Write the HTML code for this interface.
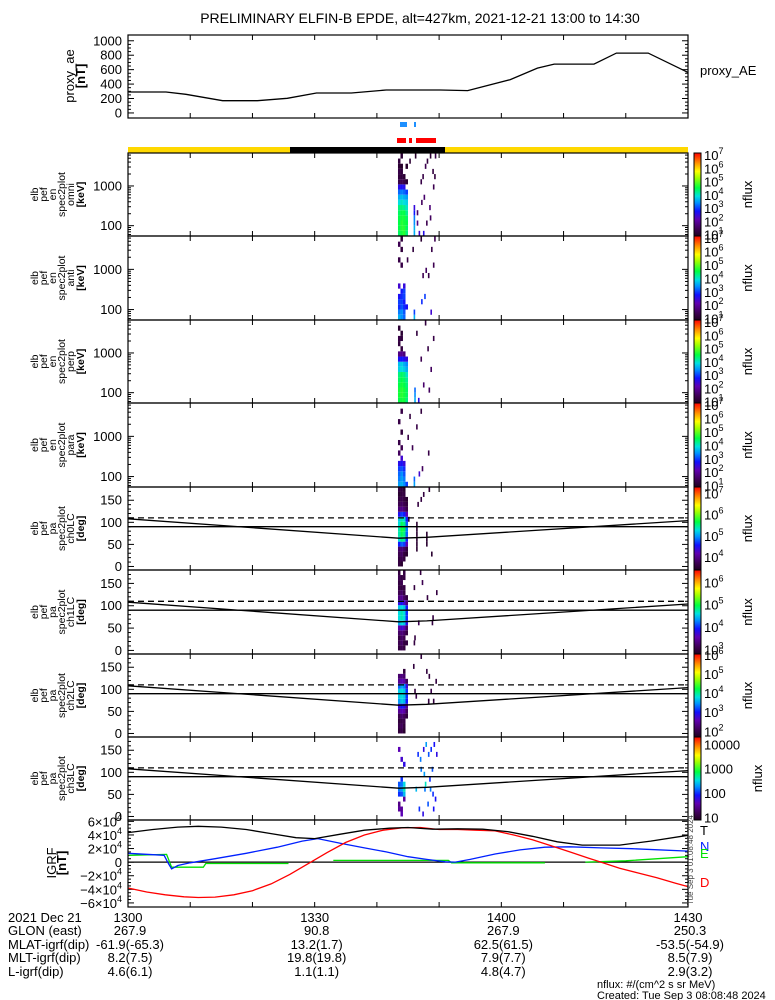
<!DOCTYPE html>
<html><head><meta charset="utf-8"><title>ELFIN-B EPDE</title>
<style>
html,body{margin:0;padding:0;background:#fff;}
svg{display:block;font-family:"Liberation Sans",sans-serif;}
</style></head>
<body>
<svg id="chart" xmlns="http://www.w3.org/2000/svg" width="775" height="1000" viewBox="0 0 775 1000">
<defs>
<linearGradient id="cmap" x1="0" y1="1" x2="0" y2="0">
<stop offset="0" stop-color="#200020"/><stop offset="0.08" stop-color="#3c0050"/><stop offset="0.2" stop-color="#6000b0"/><stop offset="0.3" stop-color="#1010ff"/><stop offset="0.4" stop-color="#0090ff"/><stop offset="0.48" stop-color="#00e0e0"/><stop offset="0.58" stop-color="#00ff40"/><stop offset="0.7" stop-color="#a0ff00"/><stop offset="0.78" stop-color="#ffff00"/><stop offset="0.88" stop-color="#ff9000"/><stop offset="1" stop-color="#ff0000"/>
</linearGradient>
</defs>
<rect width="775" height="1000" fill="#fff"/>
<text x="420" y="23" font-size="14" text-anchor="middle">PRELIMINARY ELFIN-B EPDE, alt=427km, 2021-12-21 13:00 to 14:30</text>
<g id="g-ae"></g>
<g id="g-bars"></g>
<g id="g-spec"></g>
<g id="g-igrf"></g>
<g id="g-foot" font-size="13"></g>
<text x="700" y="75" font-size="13">proxy_AE</text>
<text x="597" y="988" font-size="11">nflux: #/(cm^2 s sr MeV)</text>
<text x="597" y="999" font-size="11">Created: Tue Sep  3 08:08:48 2024</text>
<text transform="translate(693,905) rotate(-90)" font-size="8" fill="#444">Tue Sep 3 01:08:48 2024</text>
</svg>
<script>
// ---------- DATA ----------
const aeTimes=[0.1,6.1,9.3,15.2,20.8,25.6,30.3,35.9,41.5,50.2,54.6,61.4,65.8,68.5,74.9,78.5,83.6,90];
const aeValues=[290,290,258,170,170,203,276,276,318,318,309,461,622,677,677,829,829,562];
const aeTicks=[0,200,400,600,800,1000];

const igrfTTimes=[0,4,8,11.3,15,19,23,27,30,34,38,42,45,49,53,57,61,65,69,73,79,84,90];
const igrfT=[43.5,48,51.5,52.8,51.5,48,42,36,34.6,41,47,50,51,48.5,49,48.5,45,38,30,25,25,31,39.5];
const igrfDTimes=[0,3,6,9,11.3,14,17,20,23,26,29.4,32,35,38,41,44,47,50,53,56,59,62,65,68,71,74,76,79,82,85,88,90];
const igrfD=[-38,-44,-48,-51,-52,-51.5,-48,-42,-32,-18,0,14,29,40,47,50.5,51,48,48,47,46,40,33,24,15,6,0,-9,-16,-23,-31,-36];
const igrfNTimes=[0,5.8,6.5,7,8,10,14,19,24,28,30.5,34,38,41.5,45,48,51,52.6,55,59,63,67,71,76,81,90];
const igrfN=[13,10,-2,-10,-5,-1,5,13,22,31,34.6,28,21,15,8,4,0.5,0,4,12,18,22,22.5,21,19.8,16.3];
const igrfETimes=[0.2,6.2,7.0,12.1,12.5,25.8,26,33,51.5,52,67,70,73.5,80,90];
const igrfE=[10,11.4,-7.4,-7.4,-2,-2,null,2.5,2.5,-1,-1,null,0,2,8];
const igrfTicks=[-6,-4,-2,0,2,4,6];

const timeLabels=["1300","1330","1400","1430"];
const timeLabelMins=[0,30,60,90];
const glonVals=["267.9","90.8","267.9","250.3"];
const mlatVals=["-61.9(-65.3)","13.2(1.7)","62.5(61.5)","-53.5(-54.9)"];
const mltVals=["8.2(7.5)","19.8(19.8)","7.9(7.7)","8.5(7.9)"];
const lVals=["4.6(6.1)","1.1(1.1)","4.8(4.7)","2.9(3.2)"];

const lcTimes=[0,43.5,48,90];
const lcValues=[108,64,66,104];
const antiLcValue=110;
const perpValue=90;

const colTimes=[43.39,43.79,44.20,44.60];
const p1Cols=[[4.4,4.5,4.5,4.5,4.4,4.3,3.9,3.6,3.2,2.6,1.3,1.2,1.3,1.1,1.2,null],[4.6,4.7,4.7,4.6,4.5,4.3,4.0,3.7,3.3,2.7,1.4,1.2,1.2,1.0,null,1.1],[4.7,4.7,4.6,4.6,4.5,4.2,3.9,3.6,3.2,2.6,1.3,1.1,null,null,null,null],[4.3,4.4,4.5,4.4,4.2,4.0,3.8,3.5,3.0,null,1.1,null,null,1.0,null,null]];
const p1Sparse=[[45.9,0,3.6],[45.9,1,3.6],[45.9,2,3.4],[45.9,3,3.3],[45.9,4,2.8],[45.9,5,2.5],[46.4,2,1.8],[46.4,4,1.6],[47.1,6,1.5],[47.5,7,1.6],[47.9,2,1.4],[48.4,5,1.7],[48.5,3,1.5],[49.0,9,1.4],[47.3,11,1.3],[47.7,13,1.4],[48.0,14,1.2],[48.9,12,1.2],[49.3,15,1.3],[48.5,15,1.1],[46.1,15,1.0],[45.2,14,1.1],[49.2,11,1.2],[47.0,10,1.3],[46.7,0,2.4],[47.4,0,2.6]];
const p2Cols=[[3.6,3.3,2.9,3.0,2.7,null,2.4,null,null,null,null,1.3,null,null,1.4,null],[3.4,3.4,3.1,3.0,2.9,2.8,null,null,null,null,1.3,null,null,1.2,null,1.2],[3.2,3.1,2.9,2.8,3.0,3.0,2.5,null,null,null,null,null,null,null,null,null],[null,null,2.7,null,null,null,null,null,null,null,null,null,null,null,null,null]];
const p2Sparse=[[45.9,0,3.6],[45.9,1,3.0],[47.1,3,2.9],[47.6,4,3.0],[48.6,1,2.4],[47.3,8,1.4],[47.8,9,1.5],[48.2,8,1.3],[49.0,10,1.4],[48.7,13,1.3],[45.7,13,1.2],[44.8,11,1.3],[49.2,15,1.4],[47.0,15,1.1]];
const p3Cols=[[4.5,4.6,4.6,4.5,4.4,4.3,3.8,3.7,2.7,1.8,null,1.2,1.3,null,1.1,null],[4.6,4.7,4.7,4.6,4.5,4.4,3.9,3.8,2.8,1.9,1.2,null,1.2,1.1,null,null],[4.6,4.6,4.6,4.5,4.4,4.3,3.8,3.6,2.7,1.7,null,null,null,null,null,null],[4.3,4.4,4.4,4.3,4.2,4.0,3.6,3.4,2.5,null,null,null,null,null,null,null]];
const p3Sparse=[[46.0,0,3.6],[46.0,1,3.4],[46.0,2,3.2],[46.6,0,2.6],[47.4,3,1.6],[48.3,2,1.5],[47.0,8,1.4],[48.1,10,1.3],[46.3,13,1.2],[47.7,15,1.2],[49.0,12,1.3],[48.6,6,1.5]];
const p4Cols=[[3.5,3.3,3.2,3.0,2.6,null,1.5,null,1.3,null,null,null,1.3,null,null,null],[3.6,3.5,3.4,3.1,2.7,2.4,null,1.4,null,null,1.2,null,null,null,1.3,null],[3.4,3.3,3.1,2.9,2.5,null,null,null,null,null,null,null,null,null,null,null],[3.0,null,null,null,null,null,null,null,null,null,null,null,null,null,null,null]];
const p4Sparse=[[45.9,0,3.5],[45.9,1,3.2],[46.7,2,2.4],[47.2,3,1.5],[45.6,7,1.4],[46.3,11,1.3],[45.2,13,1.2],[47.0,14,1.2],[44.9,9,1.3],[48.2,6,1.3]];
const p5Cols=[[3.6,3.6,3.7,3.8,4.6,5.3,5.4,5.4,5.3,5.2,4.5,3.9,3.7,3.6,3.5,3.6],[3.5,3.7,3.8,3.9,4.8,5.5,5.6,5.7,5.6,5.4,4.7,4.0,3.8,3.7,3.6,3.6],[null,3.6,3.6,3.8,4.7,5.4,5.5,5.6,5.5,5.3,4.6,3.9,3.7,3.6,3.6,3.5],[null,null,3.5,3.6,4.2,4.6,4.8,4.9,4.8,4.6,4.2,3.7,3.6,3.5,null,null]];
const p5Sparse=[[46.3,3,3.5],[46.3,4,3.5],[46.3,5,3.5],[46.3,6,3.5],[46.3,7,3.5],[46.3,8,3.5],[47.9,4,3.5],[47.9,5,3.5],[47.9,6,3.5],[47.0,13,3.6],[47.4,14,3.6],[48.3,15,3.5],[48.7,2,3.5],[46.5,12,3.6],[45.0,9,3.6]];
const p6Cols=[[3.0,3.1,3.0,3.2,3.5,4.4,4.6,4.6,4.5,3.8,3.3,3.1,3.0,3.0,3.1,3.0],[3.1,3.2,3.2,3.3,3.7,4.6,4.7,4.7,4.6,3.9,3.4,3.2,3.0,3.1,3.0,null],[3.0,3.0,3.1,3.2,3.6,4.5,4.6,4.6,4.5,3.7,3.2,3.0,3.0,null,3.0,3.0],[null,3.0,null,3.0,3.2,3.8,4.0,4.0,3.9,3.3,3.0,null,null,null,null,null]];
const p6Sparse=[[46.6,5,3.1],[48.9,6,3.0],[48.8,5,3.0],[47.2,13,3.1],[46.9,15,3.0],[48.0,10,3.0],[49.5,11,3.0],[45.9,12,3.0],[46.0,2,3.0],[45.9,1,3.0]];
const p7Cols=[[1.9,2.0,1.9,2.0,2.4,2.8,3.5,3.7,3.7,3.3,2.4,2.2,null,null,null,null],[2.0,2.1,2.0,2.2,2.6,3.0,3.7,3.8,3.8,3.5,2.6,2.3,null,null,null,null],[1.8,1.9,2.0,2.1,2.5,2.9,3.6,3.7,3.7,3.4,2.5,2.2,1.9,null,null,null],[null,null,null,1.9,2.1,2.4,3.0,3.1,3.1,2.8,2.1,null,null,null,null,null]];
const p7Sparse=[[45.8,13,1.9],[47.9,12,1.9],[48.3,11,1.9],[48.6,8,2.0],[49.4,10,1.9],[49.0,6,1.9],[48.2,6,1.9],[47.0,15,1.9],[46.0,8,1.9],[46.2,7,2.0]];
const p8Cols=[[null,1.5,1.4,null,2.0,2.2,2.1,null,null,null,null,null,null,1.6,null,null],[1.6,1.5,null,null,2.1,2.3,2.2,2.0,null,null,null,1.7,null,null,null,null],[null,null,null,1.5,2.4,2.6,2.5,null,null,null,1.8,null,null,null,null,null],[null,null,null,null,null,null,null,null,null,null,null,null,null,null,null,null]];
const p8Sparse=[[46.5,12,2.0],[46.9,11,2.2],[47.4,13,1.8],[47.8,14,2.3],[48.2,12,2.1],[48.6,13,2.0],[49.1,14,1.9],[49.5,12,1.8],[47.0,9,2.2],[47.5,8,2.3],[48.4,7,2.0],[48.8,9,2.1],[46.2,5,2.4],[47.6,5,2.2],[48.9,4,2.0],[49.3,3,1.9],[46.7,1,2.0],[47.3,0,1.8],[48.1,2,2.1],[49.0,1,1.9],[47.7,6,2.6],[48.5,5,2.2]];

const cbRanges=[[0.9,7.15],[0.9,7.15],[0.9,7.15],[0.9,7.15],[3.4,7.3],[2.8,6.55],[1.7,6.05],[0.9,4.3]];
const cbTickExps=[[1,2,3,4,5,6,7],[1,2,3,4,5,6,7],[1,2,3,4,5,6,7],[1,2,3,4,5,6,7],[4,5,6,7],[3,4,5,6],[2,3,4,5,6],[1,2,3,4]];
const energyTicks=[100,1000];
const paTicks=[0,50,100,150];
const panelLabels=[["elb","pef","en","spec2plot","omni","[keV]"],["elb","pef","en","spec2plot","anti","[keV]"],["elb","pef","en","spec2plot","perp","[keV]"],["elb","pef","en","spec2plot","para","[keV]"],["elb","pef","pa","spec2plot","ch0LC","[deg]"],["elb","pef","pa","spec2plot","ch1LC","[deg]"],["elb","pef","pa","spec2plot","ch2LC","[deg]"],["elb","pef","pa","spec2plot","ch3LC","[deg]"]];

// ---------- HELPERS ----------
const NS='http://www.w3.org/2000/svg';
function el(tag,attrs,parent){const e=document.createElementNS(NS,tag);for(const k in attrs)e.setAttribute(k,attrs[k]);parent.appendChild(e);return e;}
const X0=128,X1=688,T0=0,T1=90;
function xs(t){return X0+(t-T0)/(T1-T0)*(X1-X0);}
const stops=[[0,[32,0,32]],[0.08,[60,0,80]],[0.2,[96,0,176]],[0.3,[16,16,255]],[0.4,[0,144,255]],[0.48,[0,224,224]],[0.58,[0,255,64]],[0.7,[160,255,0]],[0.78,[255,255,0]],[0.88,[255,144,0]],[1,[255,0,0]]];
function cmap(f){f=Math.max(0,Math.min(1,f));for(let i=1;i<stops.length;i++){if(f<=stops[i][0]){const a=stops[i-1],b=stops[i];const u=(f-a[0])/(b[0]-a[0]);const c=a[1].map((v,j)=>Math.round(v+(b[1][j]-v)*u));return 'rgb('+c.join(',')+')';}}return 'rgb(255,0,0)';}
function timeTicks(g,top,bot){
  for(let m=0;m<=90;m+=10){const x=xs(m);
    const a=el('line',{x1:x,y1:top,x2:x,y2:top+5,stroke:'#000'},g);
    
    
    const b=el('line',{x1:x,y1:bot,x2:x,y2:bot-5,stroke:'#000'},g);
    
    }
}
function yTick(g,y,len){
  const a=el('line',{x1:X0,y1:y,x2:X0+len,y2:y,stroke:'#000'},g);
  
  
  const b=el('line',{x1:X1,y1:y,x2:X1-len,y2:y,stroke:'#000'},g);
  
  
}
function frame(g,top,bot,name){
  const r=el('rect',{x:X0,y:top,width:X1-X0,height:bot-top,fill:'none',stroke:'#000','stroke-width':1.2},g);
  
  
}
function yLabel(g,x,y,txt,name){
  const t=el('text',{x:x,y:y+4.5,'font-size':13,'text-anchor':'end'},g);
  t.textContent=txt;
  
  
}
function sideLabels(g,lines,baselines,cy,fs){
  lines.forEach((s,i)=>{const t=el('text',{transform:'translate('+baselines[i]+','+cy+') rotate(-90)','font-size':fs,'text-anchor':'middle','font-weight':s.startsWith('[')?'bold':'normal'},g);
    t.textContent=s;
    
    });
}
function polyline(g,times,vals,ys,color,name,dash){
  let segs=[],cur=[];
  times.forEach((t,i)=>{if(vals[i]===null){if(cur.length)segs.push(cur);cur=[];}else cur.push(xs(t).toFixed(1)+','+ys(vals[i]).toFixed(1));});
  if(cur.length)segs.push(cur);
  segs.forEach(s=>{const p=el('polyline',{points:s.join(' '),fill:'none',stroke:color,'stroke-width':1.3},g);
    if(dash)p.setAttribute('stroke-dasharray',dash);
    
    });
}

// ---------- AE PANEL ----------
(function(){
  const g=document.getElementById('g-ae');const top=35,bot=118,lo=-70,hi=1080;
  const ys=v=>bot-(v-lo)/(hi-lo)*(bot-top);
  for(let v=0;v<=1000;v+=50)yTick(g,ys(v),v%200===0?6:3);
  aeTicks.forEach(v=>yLabel(g,122,ys(v),String(v),'ae-tick-label'));
  timeTicks(g,top,bot);
  polyline(g,aeTimes,aeValues,ys,'#000','proxy-ae-line');
  frame(g,top,bot,'ae-frame');
  sideLabels(g,['proxy_ae','[nT]'],[74,85],76,13);
})();

// ---------- STATUS BARS ----------
(function(){
  const g=document.getElementById('g-bars');
  const mk=(x1,x2,y,h,c,n)=>{const r=el('rect',{x:x1,y:y,width:x2-x1,height:h,fill:c},g);};
  mk(128,688,147,6,'#ffd800','sunlight-bar');
  mk(290,445,147,6,'#000','eclipse-bar');
  mk(400,407,122,5,'#1e90ff','blue-marker');
  mk(414,416,122,5,'#1e90ff','blue-marker');
  mk(397,406,138,5,'#ff0000','red-marker');
  mk(409,412,138,5,'#ff0000','red-marker');
  mk(416,436,138,5,'#ff0000','red-marker');
})();

// ---------- SPECTROGRAMS ----------
const colsAll=[p1Cols,p2Cols,p3Cols,p4Cols,p5Cols,p6Cols,p7Cols,p8Cols];
const sparseAll=[p1Sparse,p2Sparse,p3Sparse,p4Sparse,p5Sparse,p6Sparse,p7Sparse,p8Sparse];
(function(){
  const g=document.getElementById('g-spec');
  const tops=[153,236,320,403,487,570,654,737];
  const bots=[236,320,403,487,570,654,737,820];
  for(let p=0;p<8;p++){
    const top=tops[p],bot=bots[p],isE=p<4;
    const pg=el('g',{},g);
    
    
    const ys=isE?(v=>bot-(Math.log10(v)-1.74)/(3.83-1.74)*(bot-top)):(v=>bot-(v+8)/188*(bot-top));
    const binY=isE?(i=>[ys(Math.pow(10,1.74+(i+1)*0.13)),ys(Math.pow(10,1.74+i*0.13))]):(i=>[ys((i+1)*11.25),ys(i*11.25)]);
    const [clo,chi]=cbRanges[p];
    const fr=v=>(v-clo)/(chi-clo);
    colsAll[p].forEach((col,ci)=>{col.forEach((v,bi)=>{if(v===null)return;const [y1,y2]=binY(bi);
      const r=el('rect',{x:xs(colTimes[ci]).toFixed(2),y:y1.toFixed(2),width:(xs(colTimes[ci]+0.4)-xs(colTimes[ci])).toFixed(2),height:(y2-y1).toFixed(2),fill:cmap(fr(v))},pg);
      
      });});
    sparseAll[p].forEach(([t,bi,v])=>{const [y1,y2]=binY(bi);
      const r=el('rect',{x:xs(t).toFixed(2),y:y1.toFixed(2),width:1.6,height:(y2-y1).toFixed(2),fill:cmap(fr(v))},pg);
      
      });
    if(isE){
      for(let d=1;d<=3;d++)for(let m=1;m<=9;m++){const v=m*Math.pow(10,d);const lv=Math.log10(v);if(lv<1.74||lv>3.83)continue;yTick(pg,ys(v),m===1?6:3);}
      energyTicks.forEach(v=>yLabel(pg,122,ys(v),String(v),'energy-tick-label'));
    }else{
      for(let v=0;v<=180;v+=10)yTick(pg,ys(v),v%50===0?6:3);
      paTicks.forEach(v=>yLabel(pg,122,ys(v),String(v),'pitch-angle-tick-label'));
      polyline(pg,[0,90],[antiLcValue,antiLcValue],ys,'#000','anti-loss-cone-line','6,4');
      polyline(pg,[0,90],[perpValue,perpValue],ys,'#000','perpendicular-line');
      polyline(pg,lcTimes,lcValues,ys,'#000','loss-cone-line');
    }
    timeTicks(pg,top,bot);
    frame(pg,top,bot,'spectrogram-frame');
    sideLabels(pg,panelLabels[p],[38,47,56,65,74,84],(top+bot)/2,10.5);
    // colorbar
    const cb=el('rect',{x:694,y:top,width:7,height:bot-top,fill:'url(#cmap)',stroke:'#000','stroke-width':1},pg);
    
    
    cbTickExps[p].forEach(k=>{const y=bot-(k-clo)/(chi-clo)*(bot-top);
      const t=el('text',{x:704,y:(y+5).toFixed(1),'font-size':13},pg);
      
      
      if(p===7){t.textContent=String(Math.pow(10,k));}
      else{t.textContent='10';const s=el('tspan',{dy:-6,'font-size':9},t);s.textContent=String(k);}});
    const nf=el('text',{transform:'translate('+(p===7?762:752)+','+((top+bot)/2)+') rotate(-90)','font-size':13,'text-anchor':'middle'},pg);
    nf.textContent='nflux';
    
    
  }
})();

// ---------- IGRF PANEL ----------
(function(){
  const g=document.getElementById('g-igrf');const top=820,bot=907,lo=-66,hi=62;
  const ys=v=>bot-(v-lo)/(hi-lo)*(bot-top);
  for(let v=-60;v<=60;v+=5)yTick(g,ys(v),v%20===0?6:3);
  igrfTicks.forEach(v=>{const y=ys(v*10);
    const t=el('text',{x:122,y:(y+5).toFixed(1),'font-size':13,'text-anchor':'end'},g);
    
    
    if(v===0){t.textContent='0';}else{t.textContent=(v<0?'\u2212':'')+Math.abs(v)+'\u00d710';const s=el('tspan',{dy:-6,'font-size':9},t);s.textContent='4';}});
  timeTicks(g,top,bot);
  polyline(g,[0,90],[0,0],ys,'#000','zero-line');
  polyline(g,igrfETimes,igrfE,ys,'#00e000','igrf-e-line');
  polyline(g,igrfNTimes,igrfN,ys,'#0020ff','igrf-n-line');
  polyline(g,igrfDTimes,igrfD,ys,'#ff0000','igrf-d-line');
  polyline(g,igrfTTimes,igrfT,ys,'#000','igrf-t-line');
  frame(g,top,bot,'igrf-frame');
  sideLabels(g,['IGRF','[nT]'],[56,66],863,13);
  [['T','#000',835],['N','#0020ff',851],['E','#00e000',858],['D','#ff0000',887]].forEach(([s,c,y])=>{
    const t=el('text',{x:700,y:y,'font-size':13,fill:c},g);
    t.textContent=s;
    
    });
})();

// ---------- FOOTER TABLE ----------
(function(){
  const g=document.getElementById('g-foot');
  const rows=[["2021 Dec 21",timeLabels],["GLON (east)",glonVals],["MLAT-igrf(dip)",mlatVals],["MLT-igrf(dip)",mltVals],["L-igrf(dip)",lVals]];
  const ysr=[922,935,949,962,976];
  rows.forEach(([lab,vals],ri)=>{
    const t=el('text',{x:8,y:ysr[ri]},g);
    t.textContent=lab;
    
    
    vals.forEach((v,ci)=>{const x=xs(timeLabelMins[ci])+(ri===0?0:2);
      const c=el('text',{x:x,y:ysr[ri],'text-anchor':'middle'},g);
      c.textContent=v;
      
      });
  });
})();
</script>
</body></html>
